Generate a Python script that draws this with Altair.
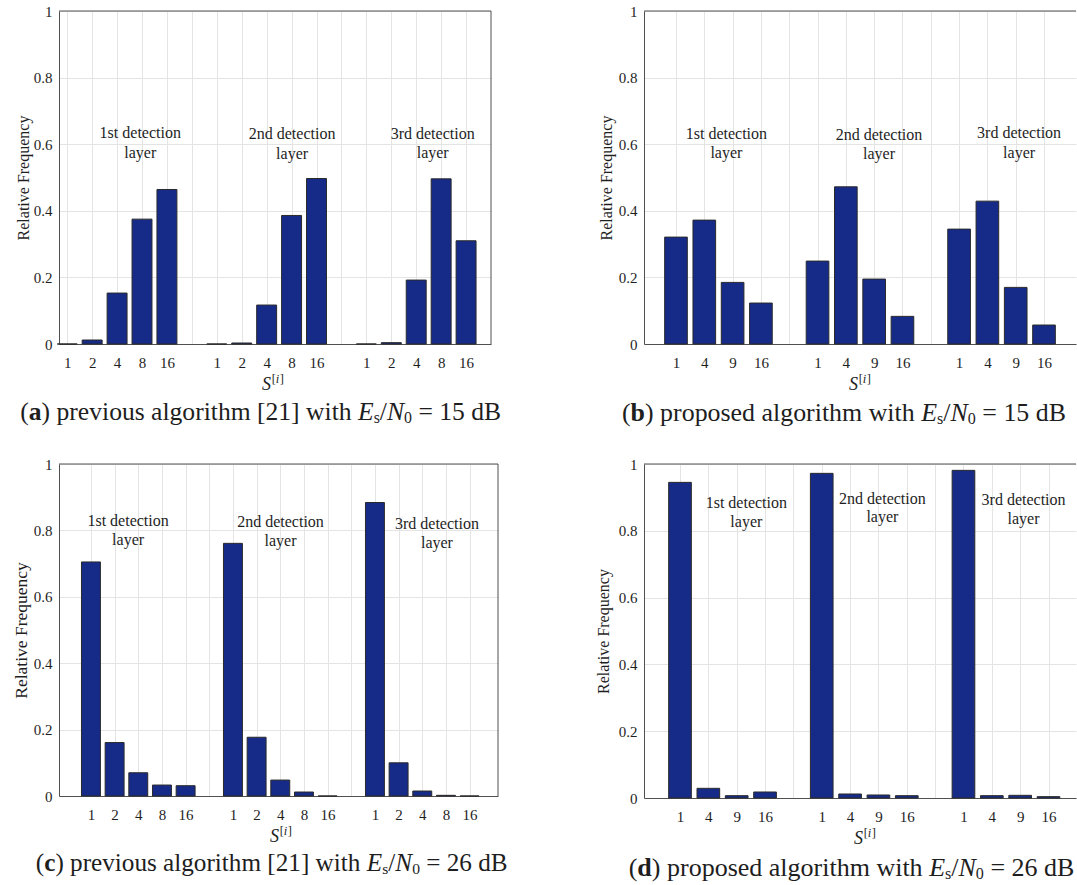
import altair as alt
import pandas as pd

FONT = "Liberation Serif"
BAR = "#162a88"
EDGE = "#2a2a2a"
GRID = "#e4e4e4"
FRAME = "#505050"
TXT = "#1e1e1e"

# ---------------- data ----------------
cats_prev = ["1", "2", "4", "8", "16"]
cats_prop = ["1", "4", "9", "16"]

freq_a = [0.000, 0.012, 0.153, 0.375, 0.464,
          0.000, 0.003, 0.117, 0.386, 0.497,
          0.000, 0.004, 0.192, 0.496, 0.310]
freq_b = [0.321, 0.372, 0.185, 0.123,
          0.249, 0.472, 0.195, 0.083,
          0.345, 0.429, 0.170, 0.057]
freq_c = [0.705, 0.161, 0.070, 0.033, 0.031,
          0.761, 0.177, 0.048, 0.012, 0.000,
          0.884, 0.100, 0.015, 0.002, 0.000]
freq_d = [0.945, 0.029, 0.007, 0.018,
          0.972, 0.012, 0.009, 0.007,
          0.981, 0.007, 0.008, 0.004]

ann_text = ["1st detection", "layer", "2nd detection", "layer", "3rd detection", "layer"]
ann_a_x = [3.93, 3.93, 10.02, 10.02, 15.66, 15.66]
ann_a_y = [0.633, 0.575, 0.630, 0.572, 0.632, 0.574]
ann_b_x = [2.78, 2.78, 8.17, 8.17, 13.12, 13.12]
ann_b_y = [0.632, 0.574, 0.629, 0.570, 0.633, 0.575]
ann_c_x = [2.57, 2.57, 9.01, 9.01, 15.62, 15.62]
ann_c_y = [0.828, 0.771, 0.826, 0.768, 0.819, 0.761]
ann_d_x = [3.34, 3.34, 8.14, 8.14, 13.12, 13.12]
ann_d_y = [0.883, 0.826, 0.896, 0.840, 0.893, 0.836]

cap_a = ("a", "previous algorithm [21] with", "15 dB")
cap_b = ("b", "proposed algorithm with", "15 dB")
cap_c = ("c", "previous algorithm [21] with", "26 dB")
cap_d = ("d", "proposed algorithm with", "26 dB")

y_ticks = [0, 0.2, 0.4, 0.6, 0.8, 1.0]

# ---------------- text metrics (Times-compatible) ----------------
W_N = {" ": 250, "(": 333, ")": 333, "[": 333, "]": 333, "/": 278, "=": 564,
       "a": 444, "b": 500, "c": 444, "d": 500, "e": 444, "g": 500, "h": 500,
       "i": 278, "l": 278, "m": 778, "n": 500, "o": 500, "p": 500, "r": 333,
       "s": 389, "t": 278, "u": 500, "v": 500, "w": 722, "y": 500, "B": 667,
       "E": 611, "N": 722}
W_B = {"a": 500, "b": 556, "c": 444, "d": 556}
W_I = {"E": 611, "N": 667, "S": 500, "i": 278}


def tw(s, table, size):
    return sum(table.get(ch, W_N.get(ch, 500)) for ch in s) / 1000.0 * size


ONE = pd.DataFrame({"k": [0]})


def txt(s, x, y, size, style="normal", weight="normal", align="left"):
    return alt.Chart(ONE).mark_text(
        text=s, font=FONT, fontSize=size, fontStyle=style, fontWeight=weight,
        align=align, baseline="alphabetic", color=TXT
    ).encode(x=alt.value(x), y=alt.value(y))


def caption(cap, x0, y0, size):
    letter, mid, end = cap
    sub = size * 0.62
    out = []
    x = x0
    out.append(txt("(", x, y0, size)); x += tw("(", W_N, size)
    out.append(txt(letter, x, y0, size, weight="bold")); x += tw(letter, W_B, size)
    s = ") " + mid
    out.append(txt(s, x, y0, size)); x += tw(s + " ", W_N, size)
    out.append(txt("E", x, y0, size, style="italic")); x += tw("E", W_I, size)
    out.append(txt("s", x, y0 + 3, sub)); x += tw("s", W_N, sub)
    out.append(txt("/", x, y0, size)); x += tw("/", W_N, size)
    out.append(txt("N", x, y0, size, style="italic")); x += tw("N", W_I, size)
    out.append(txt("0", x, y0 + 3, sub)); x += tw("0", W_N, sub) + tw(" ", W_N, size)
    out.append(txt("= " + end, x, y0, size))
    return out


def panel(freq, cats, domain, width, height, ax, ay, cap, cap_dx, cap_dy,
          cap_size, right_border, ytitle_size, xt_center, ytitle_pad):
    n = len(cats)
    nslots = 3 * n + 2
    rows = []
    i = 0
    for g in range(3):
        for k, c in enumerate(cats):
            rows.append({"slot": g * (n + 1) + k + 1, "cat": c, "freq": freq[i]})
            i += 1
    df = pd.DataFrame(rows)
    tick_labels = [cats[(s - 1) % (n + 1)] if (s - 1) % (n + 1) < n else ""
                   for s in range(1, nslots + 1)]
    label_expr = "[" + ",".join("'%s'" % t for t in tick_labels) + "][datum.value - 1]"

    xscale = alt.Scale(domain=domain, nice=False, zero=False)
    yscale = alt.Scale(domain=[0, 1], nice=False)
    xaxis = alt.Axis(values=list(range(1, nslots + 1)), labelExpr=label_expr,
                     grid=True, gridColor=GRID, ticks=False, domainColor=FRAME,
                     labelFont=FONT, labelFontSize=15, labelColor=TXT,
                     labelPadding=11, labelFlush=False, labelOverlap=False,
                     title=None)
    yaxis = alt.Axis(values=y_ticks, format="~g", grid=True, gridColor=GRID,
                     ticks=False, domainColor=FRAME, labelFont=FONT,
                     labelFontSize=15, labelColor=TXT, labelPadding=7,
                     title="Relative Frequency", titleFont=FONT,
                     titleFontSize=ytitle_size, titleFontWeight="normal",
                     titleColor=TXT, titlePadding=ytitle_pad)

    bars = alt.Chart(df).transform_calculate(
        x0="datum.slot - 0.4", x1="datum.slot + 0.4", base="0"
    ).mark_bar(fill=BAR, stroke=EDGE, strokeWidth=1).encode(
        x=alt.X("x0:Q", scale=xscale, axis=xaxis),
        x2="x1:Q",
        y=alt.Y("freq:Q", scale=yscale, axis=yaxis),
        y2="base:Q",
    )

    ann_df = pd.DataFrame({"x": ax, "y": ay, "t": ann_text})
    ann = alt.Chart(ann_df).mark_text(
        font=FONT, fontSize=16, color=TXT, baseline="middle", align="center"
    ).encode(
        x=alt.X("x:Q", scale=xscale, axis=xaxis),
        y=alt.Y("y:Q", scale=yscale, axis=yaxis),
        text="t:N",
    )

    layers = [bars]
    layers.append(alt.Chart(ONE).mark_rule(color=FRAME, strokeWidth=1).encode(
        x=alt.value(0), x2=alt.value(width), y=alt.value(0)))
    if right_border:
        layers.append(alt.Chart(ONE).mark_rule(color=FRAME, strokeWidth=1).encode(
            x=alt.value(width), y=alt.value(0), y2=alt.value(height)))
    layers.append(ann)

    # x-axis title S^[i]
    layers.append(txt("S", xt_center - 2, height + 46, 18, style="italic", align="right"))
    sx = xt_center - 1.3
    layers.append(txt("[", sx, height + 39, 12.5))
    sx += tw("[", W_N, 12.5)
    layers.append(txt("i", sx, height + 39, 12.5, style="italic"))
    sx += tw("i", W_I, 12.5) + 0.5
    layers.append(txt("]", sx, height + 39, 12.5))

    layers += caption(cap, cap_dx, height + cap_dy, cap_size)

    return alt.layer(*layers).properties(width=width, height=height)


pa = panel(freq_a, cats_prev, [0.67, 18.0], 432, 333, ann_a_x, ann_a_y, cap_a,
           -38.7, 76, 25.6, True, 16, 214, 2)
pb = panel(freq_b, cats_prop, [-0.13, 15.13], 432, 333, ann_b_x, ann_b_y, cap_b,
           -22, 77, 25.9, False, 16, 216, 4)
pc = panel(freq_c, cats_prev, [-0.35, 18.2], 439, 332, ann_c_x, ann_c_y, cap_c,
           -23.2, 75, 25.2, True, 17.5, 222, 3)
pd_ = panel(freq_d, cats_prop, [-0.27, 14.97], 432, 334, ann_d_x, ann_d_y, cap_d,
            -15.3, 78, 26.0, False, 16, 221, 7)

chart = alt.concat(
    pa, pb, pc, pd_, columns=2, bounds="flush", align="each",
    spacing=alt.RowColnumber(row=120, column=146),
).properties(
    padding={"left": 12, "top": 4, "right": 0, "bottom": 0},
    background="white",
).configure(
    font=FONT
).configure_view(
    stroke=None
).configure_axis(
    labelFont=FONT, titleFont=FONT, labelFontSize=15, labelColor=TXT,
    titleColor=TXT, titleFontWeight="normal"
).configure_text(
    font=FONT
)

chart.save("out.html", embed_options={"renderer": "svg", "actions": False})
